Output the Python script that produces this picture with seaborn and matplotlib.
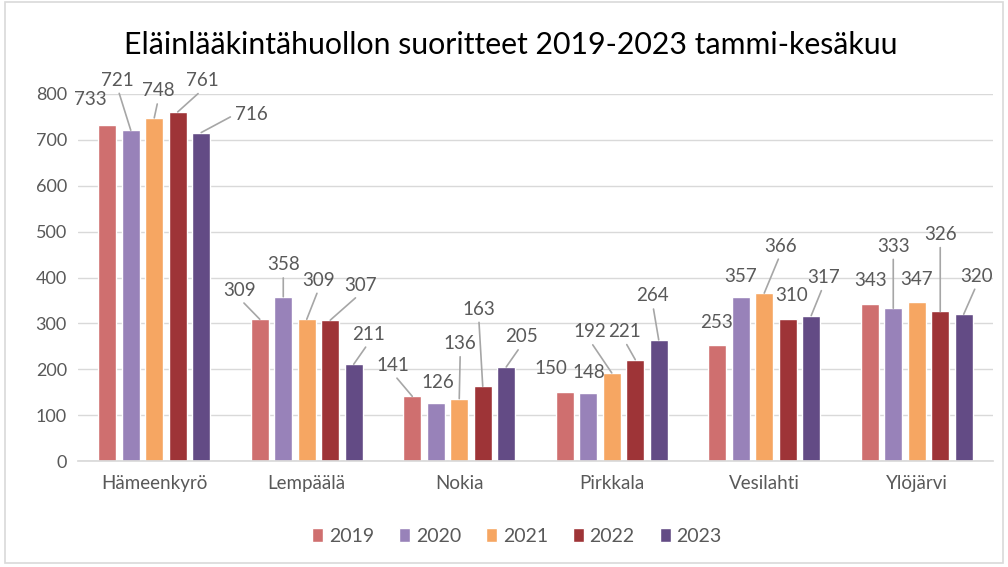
import matplotlib
matplotlib.use("Agg")
import matplotlib.pyplot as plt
import seaborn as sns
import pandas as pd
from matplotlib.patches import Rectangle

# ---- data ----
categories = ["Hämeenkyrö", "Lempäälä", "Nokia", "Pirkkala", "Vesilahti", "Ylöjärvi"]
years = ["2019", "2020", "2021", "2022", "2023"]
v2019 = [733, 309, 141, 150, 253, 343]
v2020 = [721, 358, 126, 148, 357, 333]
v2021 = [748, 309, 136, 192, 366, 347]
v2022 = [761, 307, 163, 221, 310, 326]
v2023 = [716, 211, 205, 264, 317, 320]
series = [v2019, v2020, v2021, v2022, v2023]
title = "Eläinlääkintähuollon suoritteet 2019-2023 tammi-kesäkuu"
yticks = [0, 100, 200, 300, 400, 500, 600, 700, 800]

colors = ["#cf6f6f", "#9882b9", "#f6a662", "#9e3437", "#634b85"]

# label offsets (pixels, relative to bar top centre) per category, per year
label_dx = [[-17, -13, 4, 25, 50],
            [-20, 0, 12, 30, 15],
            [-19, 2, 1, -4, 15],
            [-14, 1, -22, -11, -6],
            [-1, 0, 16, 4, 12],
            [1, 0, 0, 0, 13]]
label_dy = [[25, 50, 27, 31, 18],
            [29, 32, 39, 35, 30],
            [31, 21, 55, 77, 30],
            [24, 21, 41, 28, 44],
            [22, 21, 47, 23, 38],
            [23, 62, 22, 77, 38]]
leader = [[0, 1, 1, 1, 1],
          [1, 1, 1, 1, 1],
          [1, 0, 1, 1, 1],
          [0, 0, 1, 1, 1],
          [0, 0, 1, 0, 1],
          [0, 1, 0, 1, 1]]

rows = []
for y, vals in zip(years, series):
    for c, v in zip(categories, vals):
        rows.append({"Kunta": c, "Vuosi": y, "Arvo": v})
df = pd.DataFrame(rows)

sns.set_theme(style="white")
plt.rcParams["font.family"] = ["Lato", "DejaVu Sans"]
TXT = "#595959"

fig = plt.figure(figsize=(10.08, 5.67), dpi=100)
ax = fig.add_axes([78 / 1008, 1 - 461 / 567, 915 / 1008, (461 - 94) / 567])

sns.barplot(data=df, x="Kunta", y="Arvo", hue="Vuosi", palette=colors,
            width=0.77, gap=0.23, saturation=1, ax=ax, legend=True)

ax.set_xlim(-0.5, 5.5)
ax.set_ylim(0, 800)
ax.set_yticks(yticks)
ax.yaxis.grid(True, color="#d9d9d9", lw=1)
ax.set_axisbelow(True)
for s in ["left", "right", "top"]:
    ax.spines[s].set_visible(False)
ax.spines["bottom"].set_color("#d9d9d9")
ax.tick_params(axis="both", colors=TXT, labelsize=13, length=0)
ax.tick_params(axis="x", pad=10, labelsize=13.5)
ax.tick_params(axis="y", pad=8)
ax.set_xlabel("")
ax.set_ylabel("")

# data labels
for yi, cont in enumerate(ax.containers):
    for ci, bar in enumerate(cont):
        xc = bar.get_x() + bar.get_width() / 2
        top = bar.get_height()
        dx = label_dx[ci][yi]
        dy = label_dy[ci][yi]
        kw = {}
        if leader[ci][yi]:
            relpos = (0.0, 0.5) if abs(dx) > 40 else (0.5, 0.0)
            kw["arrowprops"] = dict(arrowstyle="-", color="#a6a6a6", lw=1.2,
                                    shrinkA=1, shrinkB=0, relpos=relpos)
        ax.annotate(str(int(series[yi][ci])), xy=(xc, top),
                    xytext=(dx, dy), textcoords="offset pixels",
                    ha="center", va="center", fontsize=13.5, color=TXT,
                    annotation_clip=False, **kw)

leg = ax.legend(loc="center", bbox_to_anchor=(517 / 1008, 1 - 536 / 567),
                bbox_transform=fig.transFigure, ncol=5, frameon=False,
                fontsize=14, handlelength=0.55, handleheight=0.7,
                handletextpad=0.3, columnspacing=1.3)
for t in leg.get_texts():
    t.set_color(TXT)

fig.text(511 / 1008, 1 - 45 / 567, title, ha="center", va="center",
         fontsize=21.8, color="#000000")

fig.patches.append(Rectangle((5 / 1008, 4 / 567), 998 / 1008, 561 / 567,
                             transform=fig.transFigure, fill=False,
                             edgecolor="#d9d9d9", lw=1.2))

fig.savefig("out.png", dpi=100)
